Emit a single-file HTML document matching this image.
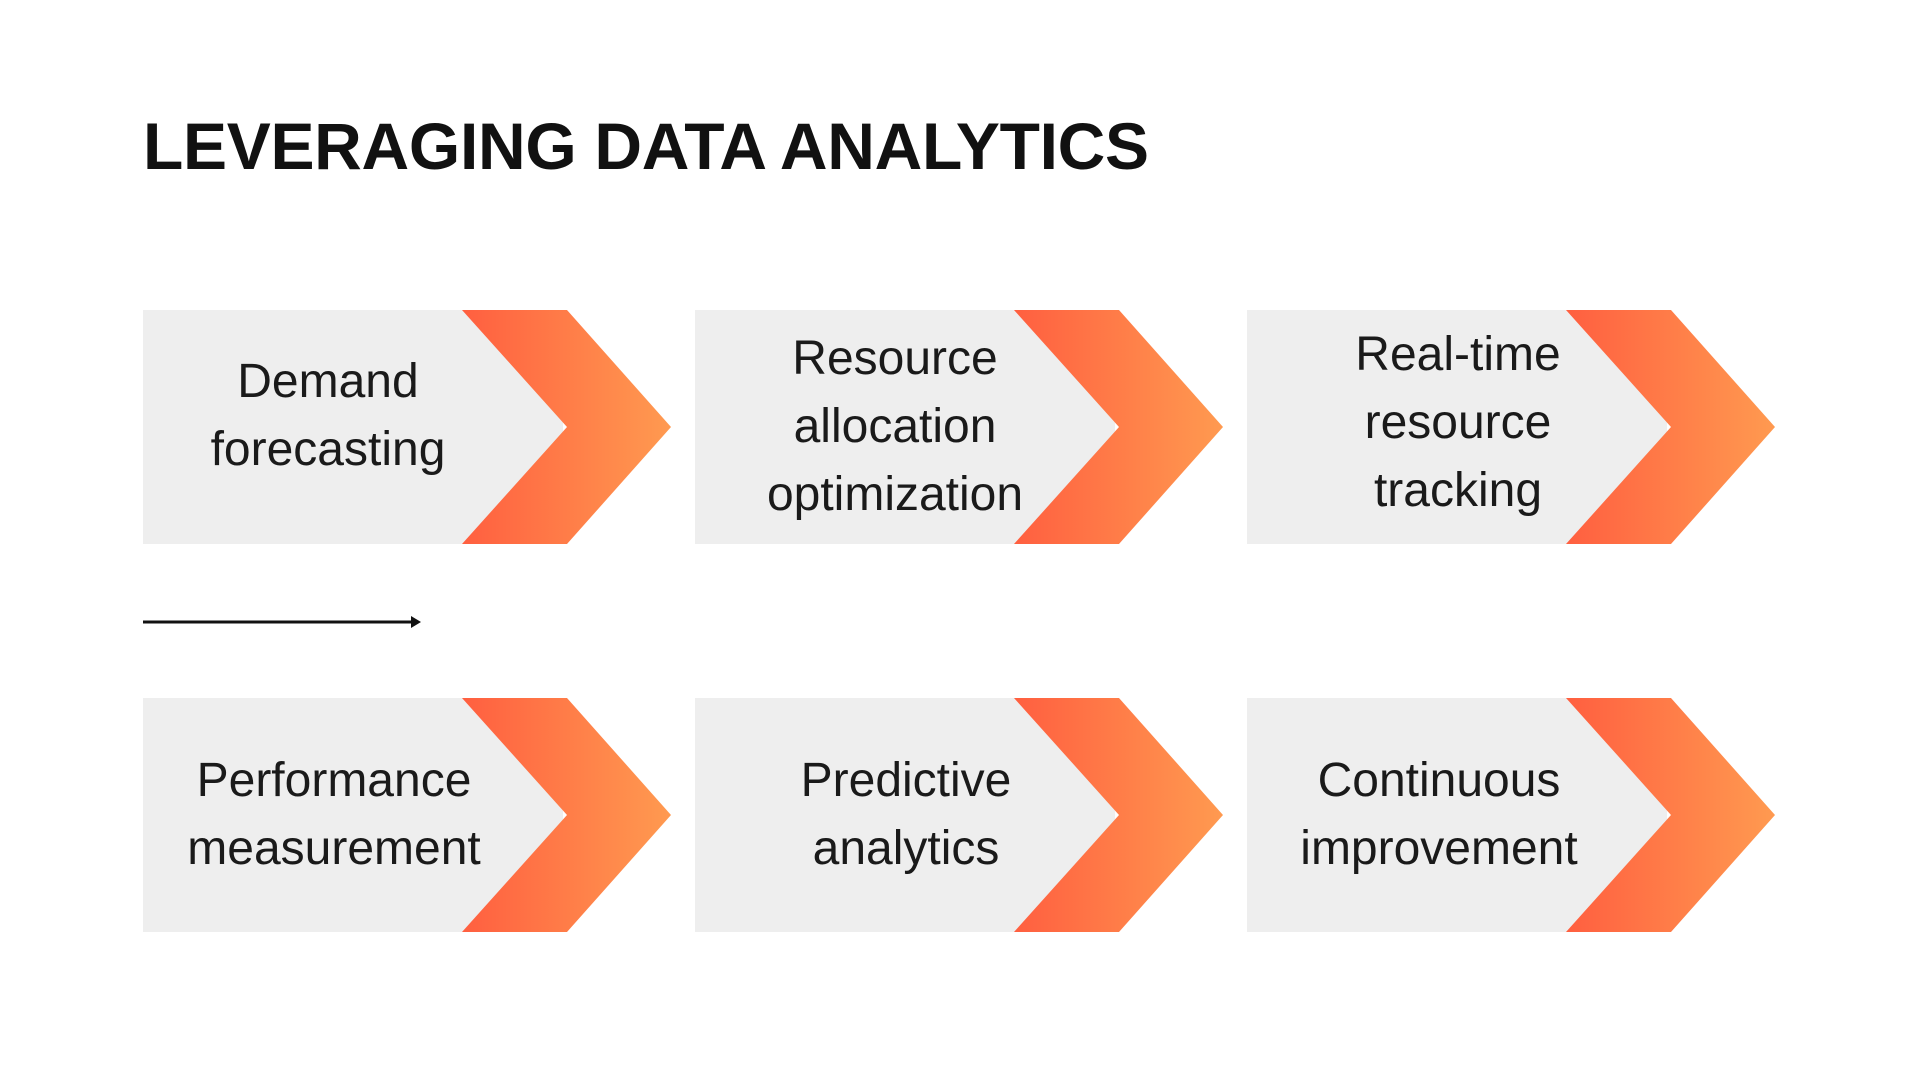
<!DOCTYPE html>
<html><head><meta charset="utf-8"><style>
body{margin:0;width:1920px;height:1080px;background:#fff;position:relative;overflow:hidden;font-family:"Liberation Sans",sans-serif}
h1{position:absolute;left:143px;top:108px;margin:0;font-size:66px;font-weight:bold;color:#111;letter-spacing:-0.3px}
.box{position:absolute;width:528px;height:234px}
.box .g{position:absolute;left:0;top:0;width:420px;height:234px;background:#eeeeee}
.box svg{position:absolute;left:0;top:0}
.box .t{position:absolute;left:0;top:0;width:370px;height:234px;display:flex;align-items:center;justify-content:center;text-align:center;font-size:48px;line-height:68px;color:#1a1a1a;white-space:nowrap}
</style></head><body>
<h1>LEVERAGING DATA ANALYTICS</h1>
<svg width="1920" height="1080" style="position:absolute;left:0;top:0">
<defs><linearGradient id="gr" x1="0" x2="1" y1="0" y2="0"><stop offset="0" stop-color="#ff5f40"/><stop offset="1" stop-color="#ff9a50"/></linearGradient></defs>
<line x1="143" y1="622" x2="415" y2="622" stroke="#111" stroke-width="3"/>
<polygon points="411,616 421,622 411,628" fill="#111"/>
</svg>
<div class="box" style="left:143px;top:310px"><div class="g"></div><svg width="528" height="234"><polygon points="319,0 424,0 528,117 424,234 319,234 424,117" fill="url(#gr)"/></svg><div class="t" style="top:-11px">Demand<br>forecasting</div></div>
<div class="box" style="left:695px;top:310px"><div class="g"></div><svg width="528" height="234"><polygon points="319,0 424,0 528,117 424,234 319,234 424,117" fill="url(#gr)"/></svg><div class="t" style="width:400px">Resource<br>allocation<br>optimization</div></div>
<div class="box" style="left:1247px;top:310px"><div class="g"></div><svg width="528" height="234"><polygon points="319,0 424,0 528,117 424,234 319,234 424,117" fill="url(#gr)"/></svg><div class="t" style="width:422px;top:-4px">Real-time<br>resource<br>tracking</div></div>
<div class="box" style="left:143px;top:698px"><div class="g"></div><svg width="528" height="234"><polygon points="319,0 424,0 528,117 424,234 319,234 424,117" fill="url(#gr)"/></svg><div class="t" style="width:382px">Performance<br>measurement</div></div>
<div class="box" style="left:695px;top:698px"><div class="g"></div><svg width="528" height="234"><polygon points="319,0 424,0 528,117 424,234 319,234 424,117" fill="url(#gr)"/></svg><div class="t" style="width:422px">Predictive<br>analytics</div></div>
<div class="box" style="left:1247px;top:698px"><div class="g"></div><svg width="528" height="234"><polygon points="319,0 424,0 528,117 424,234 319,234 424,117" fill="url(#gr)"/></svg><div class="t" style="width:384px">Continuous<br>improvement</div></div>
</body></html>
